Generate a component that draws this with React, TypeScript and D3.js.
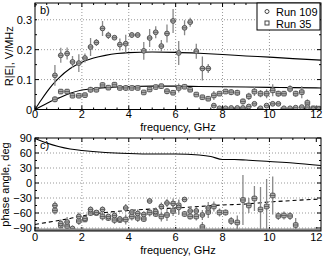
import * as d3 from "d3";
import React from "react";

// measured frequencies, GHz
const freqs = [
  0.85, 1.1, 1.37, 1.6, 1.87, 2.13, 2.37, 2.62, 2.88, 3.13, 3.39, 3.62, 3.87, 4.13, 4.38, 4.64,
  4.89, 5.15, 5.39, 5.63, 5.89, 6.13, 6.38, 6.62, 6.88, 7.14, 7.39, 7.63, 7.87, 8.13, 8.37, 8.63,
  8.87, 9.12, 9.36, 9.62, 9.88, 10.14, 10.38, 10.62, 10.88, 11.12, 11.38, 11.62, 11.87, 12.1,
];

// R|E| run 109 (circles)
const amp109 = [
  0.114, 0.181, 0.187, 0.159, 0.155, 0.172, 0.209, 0.224, 0.271, 0.248, 0.24, 0.217, 0.22, 0.249,
  0.249, 0.196, 0.239, 0.258, 0.212, 0.254, 0.296, 0.189, 0.273, 0.292, 0.195, 0.137, 0.137, 0.013,
  0.004, 0.004, 0.005, 0.005, 0.005, 0.01, 0.019, 0.004, 0.013, 0.019, 0.019, 0.004, 0.004, 0.006,
  0.008, 0.008, 0.001, 0.001,
];
const amp109Err = [
  0.035, 0.025, 0.02, 0.02, 0.03, 0.015, 0.03, 0.012, 0.025, 0.012, 0.008, 0.02, 0.03, 0.01, 0.01,
  0.03, 0.03, 0.02, 0.02, 0.03, 0.04, 0.04, 0.025, 0.015, 0.025, 0.04, 0.015, 0.003, 0.002, 0.002,
  0.002, 0.002, 0.002, 0.003, 0.003, 0.002, 0.003, 0.003, 0.003, 0.002, 0.002, 0.002, 0.002,
  0.003, 0.002, 0.002,
];

// R|E| run 35 (squares)
const amp35 = [
  0.034, 0.06, 0.06, 0.046, 0.046, 0.048, 0.066, 0.066, 0.082, 0.073, 0.083, 0.072, 0.072, 0.072,
  0.072, 0.057, 0.067, 0.075, 0.078, 0.061, 0.056, 0.072, 0.076, 0.066, 0.05, 0.041, 0.036, 0.047,
  0.053, 0.06, 0.058, 0.056, 0.027, 0.044, 0.06, 0.053, 0.053, 0.064, 0.053, 0.053, 0.069, 0.053,
  0.058, 0.022, 0.004, 0.003,
];
const amp35Err = [
  0.01, 0.008, 0.008, 0.004, 0.004, 0.004, 0.01, 0.008, 0.005, 0.005, 0.005, 0.008, 0.01, 0.006,
  0.005, 0.005, 0.008, 0.006, 0.005, 0.01, 0.006, 0.015, 0.005, 0.005, 0.004, 0.006, 0.006, 0.015,
  0.006, 0.006, 0.01, 0.01, 0.01, 0.012, 0.015, 0.012, 0.015, 0.02, 0.01, 0.008, 0.012, 0.01, 0.02,
  0.012, 0.005, 0.003,
];

// phase, deg (run 109 only below 7.4 GHz)
const phase109 = [
  -45, -81, -78, -91, -67, -71, -53, -59, -53, -67, -65, -72, -50, -58, -61, -63, -36, -57, -47,
  -40, -41, -49, -33, -56, -56, -64, -50,
];
const phase109Err = [8, 8, 10, 6, 8, 5, 6, 4, 6, 5, 8, 6, 8, 6, 8, 6, 5, 8, 8, 8, 10, 15, 5, 8, 8, 10, 12];
const phase35 = [
  -55, -85, -86, -95, -76, -73, -60, -60, -67, -70, -74, -74, -73, -67, -70, -72, -59, -62, -67,
  -64, -56, -45, -62, -67, -67, -88, -58, -47, -59, -59, -76, -79, -34, -45, -31, -53, -47, -25,
  -66, -65, -66, -84,
];
const phase35Err = [
  8, 6, 8, 6, 8, 5, 6, 4, 8, 6, 8, 6, 10, 8, 8, 6, 8, 6, 10, 12, 10, 12, 6, 6, 8, 10, 12, 10, 8,
  6, 8, 14, 50, 15, 25, 45, 55, 38, 8, 8, 8, 14,
];

// model curves
const modelFreqs = [0, 0.25, 0.5, 0.75, 1, 1.5, 2, 2.5, 3, 3.5, 4, 5, 6, 7, 8, 9, 10, 11, 12.2];
const model109 = [
  0, 0.03, 0.058, 0.083, 0.104, 0.137, 0.158, 0.172, 0.181, 0.187, 0.19, 0.192, 0.191, 0.188,
  0.184, 0.179, 0.175, 0.17, 0.165,
];
const model35 = [
  0, 0.01, 0.02, 0.03, 0.038, 0.054, 0.065, 0.07, 0.073, 0.075, 0.077, 0.078, 0.078, 0.077,
  0.076, 0.075, 0.074, 0.073, 0.072,
];
const phaseModelFreqs = [0, 0.5, 1, 1.5, 2, 3, 4, 5, 6, 7, 7.5, 8, 8.5, 9, 10, 11, 12.2];
const phaseModelSolid = [89, 80, 73, 68, 65, 61, 59, 58, 58, 56, 53, 47, 47, 46, 43, 40, 35];
const phaseModelDashFreqs = [0, 0.5, 1, 1.5, 2, 2.5, 3, 4, 5, 6, 7, 8, 9, 10, 11, 12.2];
const phaseModelDash = [-83, -79, -75, -71, -66, -62, -59, -55, -52, -50, -47, -44, -42, -38, -35, -32];

const xTicks = [0, 2, 4, 6, 8, 10, 12];
const ampTicks = [0, 0.1, 0.2, 0.3];
const phaseTicks = [90, 60, 30, 0, -30, -60, -90];
const legendLabels = ["Run 109", "Run 35"];

const W = 328;
const H = 257;
const L = 35;
const R = 321;
const FONT = "'Liberation Sans', Arial, sans-serif";

const x = d3.scaleLinear().domain([0, 12.2]).range([L, R]);
const yAmp = d3.scaleLinear().domain([0, 0.356]).range([109.5, 3]);
const yPh = d3.scaleLinear().domain([-96, 90]).range([231, 138]);

function Frame({ y, ticks, minor, label, clipId, tickDy, labelDy }: any) {
  const [y0, y1] = y.range();
  const xMinor = d3.range(0, 12.21, 0.5);
  return (
    <g>
      {xTicks.slice(1, -1).map((t) => (
        <line key={"gx" + t} x1={x(t)} x2={x(t)} y1={y1} y2={y0} stroke="#999" strokeDasharray="1,2" />
      ))}
      {ticks
        .filter((t: number) => y(t) > y1 + 2 && y(t) < y0 - 2)
        .map((t: number) => (
          <line key={"gy" + t} x1={L} x2={R} y1={y(t)} y2={y(t)} stroke="#999" strokeDasharray="1,2" />
        ))}
      {xMinor.map((t) => {
        const len = t % 2 === 0 ? 4 : 2;
        return (
          <g key={"tx" + t}>
            <line x1={x(t)} x2={x(t)} y1={y0} y2={y0 - len} stroke="#000" />
            <line x1={x(t)} x2={x(t)} y1={y1} y2={y1 + len} stroke="#000" />
          </g>
        );
      })}
      {minor.map((t: number, i: number) => {
        const len = ticks.includes(t) ? 4 : 2;
        return (
          <g key={"ty" + i}>
            <line x1={L} x2={L + len} y1={y(t)} y2={y(t)} stroke="#000" />
            <line x1={R} x2={R - len} y1={y(t)} y2={y(t)} stroke="#000" />
          </g>
        );
      })}
      <text x={L + 5} y={y1 + 11} fontSize={11} fontFamily={FONT}>
        {label}
      </text>
      {xTicks.map((t) => (
        <text key={"lx" + t} x={x(t)} y={y0 + tickDy} fontSize={11} textAnchor="middle" fontFamily={FONT}>
          {t}
        </text>
      ))}
      <text x={(L + R) / 2} y={y0 + labelDy} fontSize={11} textAnchor="middle" fontFamily={FONT}>
        frequency, GHz
      </text>
      <clipPath id={clipId}>
        <rect x={L} y={y1} width={R - L} height={y0 - y1} />
      </clipPath>
    </g>
  );
}

function Points({ xs, ys, errs, y, shape, clipId }: any) {
  return (
    <g clipPath={`url(#${clipId})`}>
      {ys.map((v: number, i: number) => {
        const cx = x(xs[i]);
        const cy = y(v);
        return (
          <g key={i}>
            <line x1={cx} x2={cx} y1={y(v - errs[i])} y2={y(v + errs[i])} stroke="#888" strokeWidth={1.3} />
            {shape === "circle" ? (
              <circle cx={cx} cy={cy} r={2.4} fill="#aaa" stroke="#555" strokeWidth={1} />
            ) : (
              <rect x={cx - 2.3} y={cy - 2.3} width={4.6} height={4.6} rx={1} fill="#aaa" stroke="#555" strokeWidth={1} />
            )}
            <line x1={cx - 2.5} x2={cx + 2.5} y1={cy} y2={cy} stroke="#555" strokeWidth={0.8} />
          </g>
        );
      })}
    </g>
  );
}

export default function App() {
  const ampLine = (vals: number[]) =>
    d3
      .line<number>()
      .x((_, i) => x(modelFreqs[i]))
      .y((d) => yAmp(d))
      .curve(d3.curveMonotoneX)(vals) as string;
  const phLine = (fs: number[], vals: number[]) =>
    d3
      .line<number>()
      .x((_, i) => x(fs[i]))
      .y((d) => yPh(d))
      .curve(d3.curveMonotoneX)(vals) as string;

  const ampMinor = d3.range(0, 0.351, 0.05);
  const phMinor = d3.range(-90, 90.1, 15);

  return (
    <svg width={W} height={H} style={{ position: "absolute", left: 0, top: 0, background: "#fff" }}>
      {/* top panel: amplitude */}
      <Frame y={yAmp} ticks={ampTicks} minor={ampMinor} label="b)" clipId="clipA" tickDy={8} labelDy={21} />
      <path d={ampLine(model109)} fill="none" stroke="#000" strokeWidth={1.1} />
      <path d={ampLine(model35)} fill="none" stroke="#000" strokeWidth={1.1} />
      <Points xs={freqs} ys={amp35} errs={amp35Err} y={yAmp} shape="square" clipId="clipA" />
      <Points xs={freqs} ys={amp109} errs={amp109Err} y={yAmp} shape="circle" clipId="clipA" />
      {ampTicks.map((t) => (
        <text key={t} x={L - 3} y={yAmp(t) + 4} fontSize={11} textAnchor="end" fontFamily={FONT}>
          {t}
        </text>
      ))}
      <text transform={`translate(13,${(yAmp(0) + yAmp(0.356)) / 2}) rotate(-90)`} fontSize={11} textAnchor="middle" fontFamily={FONT}>
        R|E|, V/MHz
      </text>
      <rect x={L} y={3} width={R - L} height={109.5 - 3} fill="none" stroke="#000" />

      {/* legend */}
      <g>
        <rect x={257} y={3} width={63} height={27} fill="#fff" stroke="#000" />
        <circle cx={267} cy={11.5} r={2} fill="none" stroke="#444" />
        <rect x={265} y={21} width={4} height={4} fill="none" stroke="#444" />
        {legendLabels.map((l, i) => (
          <text key={l} x={276} y={15.5 + i * 12} fontSize={11} fontFamily={FONT}>
            {l}
          </text>
        ))}
      </g>

      {/* bottom panel: phase */}
      <Frame y={yPh} ticks={phaseTicks} minor={phMinor} label="c)" clipId="clipP" tickDy={10} labelDy={23} />
      <path d={phLine(phaseModelFreqs, phaseModelSolid)} fill="none" stroke="#000" strokeWidth={1.1} />
      <path d={phLine(phaseModelDashFreqs, phaseModelDash)} fill="none" stroke="#000" strokeWidth={1.1} strokeDasharray="4,3" />
      <Points xs={freqs} ys={phase35} errs={phase35Err} y={yPh} shape="square" clipId="clipP" />
      <Points xs={freqs} ys={phase109} errs={phase109Err} y={yPh} shape="circle" clipId="clipP" />
      {phaseTicks.map((t) => (
        <text key={t} x={L - 3} y={yPh(t) + 4} fontSize={11} textAnchor="end" fontFamily={FONT}>
          {t < 0 ? "\u2212" + Math.abs(t) : t}
        </text>
      ))}
      <text transform={`translate(9,${(yPh(-96) + yPh(90)) / 2}) rotate(-90)`} fontSize={11} textAnchor="middle" fontFamily={FONT}>
        phase angle, deg
      </text>
      <rect x={L} y={yPh(-96) - 2.5} width={R - L} height={2.5} fill="#888" />
      <rect x={L} y={yPh(90)} width={R - L} height={yPh(-96) - yPh(90)} fill="none" stroke="#000" />
    </svg>
  );
}
